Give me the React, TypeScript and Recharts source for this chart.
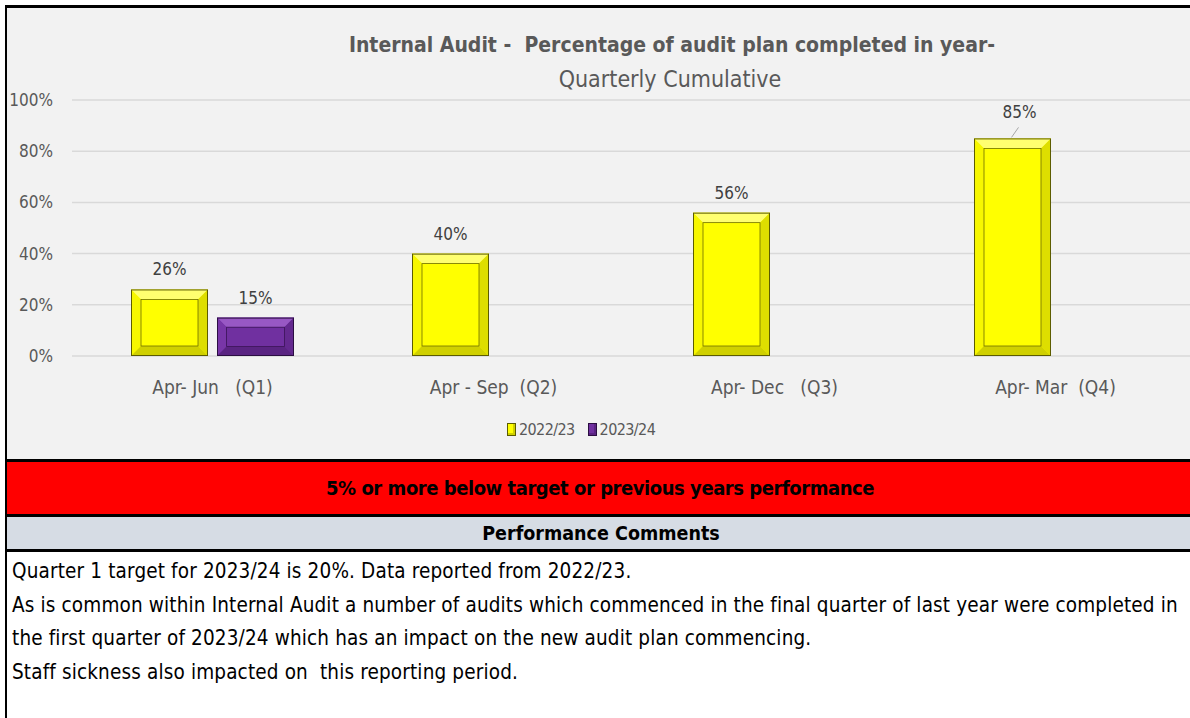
import React from 'react';
import { BarChart, Bar, XAxis, YAxis, CartesianGrid, LabelList } from 'recharts';

const quarters = ['Apr- Jun   (Q1)', 'Apr - Sep  (Q2)', 'Apr- Dec   (Q3)', 'Apr- Mar  (Q4)'];
const values2223 = [26, 40, 56, 85];
const values2324: (number | null)[] = [15, null, null, null];
const yTicks = [0, 20, 40, 60, 80, 100];

const comments = [
  'Quarter 1 target for 2023/24 is 20%. Data reported from 2022/23.',
  'As is common within Internal Audit a number of audits which commenced in the final quarter of last year were completed in',
  'the first quarter of 2023/24 which has an impact on the new audit plan commencing.',
  'Staff sickness also impacted on  this reporting period.',
];

const data = quarters.map((q, i) => ({ name: q, y2223: values2223[i], y2324: values2324[i] }));

const FONT = '"Liberation Sans Narrow", "DejaVu Sans Condensed", "Roboto", sans-serif';

type Pal = { main: string; light: string; left: string; right: string; bottom: string; inner: string; outer: string };

const yellow: Pal = { main: '#ffff00', light: '#ffff70', left: '#f7f700', right: '#dede00', bottom: '#d0d000', inner: '#6e6e00', outer: '#5c5c00' };
const purple: Pal = { main: '#7030a0', light: '#9858c4', left: '#7836a8', right: '#64298f', bottom: '#5a2482', inner: '#3a1456', outer: '#2b0e42' };

function BevelBar(props: any) {
  const { x, y, width: w, height: h, pal } = props;
  if (!h || h <= 0) return null;
  const b = Math.min(10, w / 4, h / 4);
  return (
    <g>
      <rect x={x} y={y} width={w} height={h} fill={pal.main} />
      <polygon points={`${x},${y} ${x + w},${y} ${x + w - b},${y + b} ${x + b},${y + b}`} fill={pal.light} />
      <polygon points={`${x},${y} ${x + b},${y + b} ${x + b},${y + h - b} ${x},${y + h}`} fill={pal.left} />
      <polygon points={`${x + w},${y} ${x + w},${y + h} ${x + w - b},${y + h - b} ${x + w - b},${y + b}`} fill={pal.right} />
      <polygon points={`${x},${y + h} ${x + b},${y + h - b} ${x + w - b},${y + h - b} ${x + w},${y + h}`} fill={pal.bottom} />
      <rect x={x + b} y={y + b} width={w - 2 * b} height={h - 2 * b} fill={pal.main} stroke={pal.inner} strokeWidth={0.8} />
      <rect x={x + 0.5} y={y + 0.5} width={w - 1} height={h - 1} fill="none" stroke={pal.outer} strokeWidth={1} />
    </g>
  );
}

function ValueLabel(props: any) {
  const { x, y, width, value, index } = props;
  if (value == null) return null;
  const cx = x + width / 2;
  if (index === 3) {
    // label pushed up with a small leader line, as in the original
    return (
      <g>
        <line x1={cx - 1} y1={y - 1} x2={cx + 6} y2={y - 11} stroke="#a6a6a6" strokeWidth={1} />
        <text x={cx + 7} y={y - 26} dy="0.35em" textAnchor="middle" fill="#404040" fontSize={17} fontFamily={FONT}>
          {value}%
        </text>
      </g>
    );
  }
  return (
    <text x={cx} y={y - 20} dy="0.35em" textAnchor="middle" fill="#404040" fontSize={17} fontFamily={FONT}>
      {value}%
    </text>
  );
}

function CatTick(props: any) {
  const { x, y, payload } = props;
  return (
    <text x={x} y={y + 23} dy="0.35em" textAnchor="middle" fill="#595959" fontSize={19} fontFamily={FONT} style={{ whiteSpace: 'pre' }}>
      {payload.value}
    </text>
  );
}

function Swatch({ pal }: { pal: Pal }) {
  return (
    <span
      style={{
        display: 'inline-block',
        width: 7,
        height: 11,
        background: pal.main,
        border: `1px solid ${pal.outer}`,
        boxShadow: `inset -2px -2px 0 ${pal.bottom}`,
        marginRight: 3,
      }}
    />
  );
}

export default function App() {
  return (
    <div style={{ position: 'absolute', left: 0, top: 0, width: 1190, height: 718, overflow: 'hidden', background: '#ffffff', fontFamily: FONT }}>
      {/* chart panel */}
      <div style={{ position: 'absolute', left: 5, top: 5, width: 1200, height: 453, background: '#f2f2f2', borderLeft: '2px solid #000', borderTop: '3px solid #000' }} />
      <div style={{ position: 'absolute', left: 7, top: 7, width: 1200, height: 452 }}>
        <BarChart width={1200} height={452} data={data} margin={{ top: 93, right: 11, left: 0, bottom: 63 }} barSize={77} barGap={9}>
          <CartesianGrid vertical={false} stroke="#d9d9d9" strokeWidth={1.5} />
          <XAxis dataKey="name" axisLine={false} tickLine={false} tick={<CatTick />} height={40} interval={0} />
          <YAxis
            domain={[0, 100]}
            ticks={yTicks}
            width={65}
            axisLine={false}
            tickLine={false}
            tickSize={0}
            tickMargin={19}
            tick={{ fontSize: 17, fill: '#595959', fontFamily: FONT }}
            tickFormatter={(v) => `${v}%`}
          />
          <Bar dataKey="y2223" isAnimationActive={false} shape={(p: any) => <BevelBar {...p} pal={yellow} />}>
            <LabelList dataKey="y2223" content={<ValueLabel />} />
          </Bar>
          <Bar dataKey="y2324" isAnimationActive={false} shape={(p: any) => <BevelBar {...p} pal={purple} />}>
            <LabelList dataKey="y2324" content={<ValueLabel />} />
          </Bar>
        </BarChart>
      </div>
      {/* titles */}
      <div style={{ position: 'absolute', left: 0, width: 1344, top: 33, textAlign: 'center', fontSize: 21, fontWeight: 'bold', color: '#595959', whiteSpace: 'pre' }}>
        {'Internal Audit -  Percentage of audit plan completed in year-'}
      </div>
      <div style={{ position: 'absolute', left: 0, width: 1340, top: 66, textAlign: 'center', fontSize: 23, color: '#595959' }}>
        Quarterly Cumulative
      </div>
      {/* legend */}
      <div style={{ position: 'absolute', left: 507, top: 420, fontSize: 16, letterSpacing: -0.6, color: '#595959', display: 'flex', alignItems: 'center', whiteSpace: 'nowrap' }}>
        <Swatch pal={yellow} />
        <span style={{ marginRight: 13 }}>2022/23</span>
        <Swatch pal={purple} />
        <span>2023/24</span>
      </div>
      {/* status band */}
      <div style={{ position: 'absolute', left: 5, top: 459, width: 1200, height: 3, background: '#000' }} />
      <div style={{ position: 'absolute', left: 5, top: 462, width: 1200, height: 52, background: '#ff0000', borderLeft: '2px solid #000', boxSizing: 'border-box' }} />
      <div style={{ position: 'absolute', left: 0, width: 1200, top: 462, height: 52, lineHeight: '52px', textAlign: 'center', fontSize: 20, letterSpacing: -0.45, fontWeight: 'bold', color: '#000' }}>
        5% or more below target or previous years performance
      </div>
      <div style={{ position: 'absolute', left: 5, top: 514, width: 1200, height: 3, background: '#000' }} />
      <div style={{ position: 'absolute', left: 5, top: 517, width: 1200, height: 32, background: '#d6dce4', borderLeft: '2px solid #000', boxSizing: 'border-box' }} />
      <div style={{ position: 'absolute', left: 0, width: 1202, top: 518, height: 32, lineHeight: '32px', textAlign: 'center', fontSize: 19.5, fontWeight: 'bold', color: '#000' }}>
        Performance Comments
      </div>
      <div style={{ position: 'absolute', left: 5, top: 549, width: 1200, height: 3, background: '#000' }} />
      <div style={{ position: 'absolute', left: 5, top: 552, width: 2, height: 166, background: '#000' }} />
      {/* comments */}
      <div style={{ position: 'absolute', left: 12, top: 555, fontSize: 20.5, letterSpacing: 0.15, color: '#000', lineHeight: '33.5px', whiteSpace: 'pre' }}>
        {comments.map((c, i) => (
          <div key={i}>{c}</div>
        ))}
      </div>
    </div>
  );
}
